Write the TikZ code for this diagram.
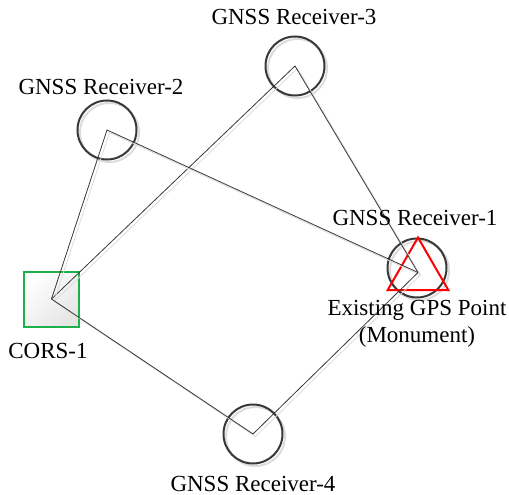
\documentclass[tikz,border=0pt]{standalone}
\usepackage{fontspec}
\setmainfont{Liberation Serif}
\usetikzlibrary{shapes.geometric}
\definecolor{lineg}{HTML}{383838}
\definecolor{corsg}{HTML}{1DB14B}
\definecolor{shad}{HTML}{DCDCDC}
\begin{document}
\begin{tikzpicture}[x=1pt,y=-1pt,
  recv/.style={circle, draw=lineg, line width=2pt, minimum size=59pt, inner sep=0pt,
    preaction={draw=shad, line width=2pt, transform canvas={shift={(2.5,2.5)}}}},
  conn/.style={draw=lineg, line width=0.8pt,
    preaction={draw=shad, line width=0.8pt, transform canvas={shift={(2.5,2.5)}}}},
  lbl/.style={font=\fontsize{23}{27}\selectfont, inner sep=0pt}]
\useasboundingbox (0,0) rectangle (509,495);
% nodes
\node[draw=corsg, line width=2pt, minimum size=55pt, inner sep=0pt,
  top color=white, bottom color=black!10, shading angle=45] (cors) at (51.5,299) {};
\node[recv] (r1) at (417,268) {};
\node[recv] (r2) at (107,130) {};
\node[recv] (r3) at (295,66) {};
\node[recv] (r4) at (253,434) {};
\node[regular polygon, regular polygon sides=3, draw=red, line width=2pt,
  minimum size=70pt, inner sep=0pt] (gps) at (418,272.5) {};
% connectors
\draw[conn] (cors.center) -- (r3.center) -- (gps.center);
\draw[conn] (cors.center) -- (r2.center) -- (gps.center);
\draw[conn] (cors.center) -- (r4.center) -- (gps.center);
% labels
\node[lbl] (l3) at (294,17) {GNSS Receiver-3};
\node[lbl] (l2) at (101,87) {GNSS Receiver-2};
\node[lbl] (l1) at (415,218) {GNSS Receiver-1};
\node[lbl] (lg1) at (417,310) {Existing GPS Point};
\node[lbl] (lg2) at (417,337) {(Monument)};
\node[lbl] (lc) at (48,351) {CORS-1};
\node[lbl] (l4) at (253,484) {GNSS Receiver-4};
\end{tikzpicture}
\end{document}
